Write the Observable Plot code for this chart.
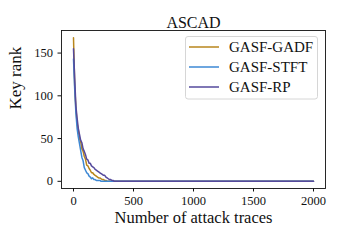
<!DOCTYPE html>
<html><head><meta charset="utf-8">
<script src="https://cdn.jsdelivr.net/npm/d3@7"></script>
<script src="https://cdn.jsdelivr.net/npm/@observablehq/plot@0.6"></script>
<style>body{margin:0;background:#fff} svg{display:block}</style>
</head><body><div id="chart"></div>
<script>
const title = "ASCAD";
const xLabel = "Number of attack traces";
const yLabel = "Key rank";
const xTicks = [0, 500, 1000, 1500, 2000];
const yTicks = [0, 50, 100, 150];
const seriesNames = ["GASF-GADF", "GASF-STFT", "GASF-RP"];
const seriesColors = ["#b8861c", "#3d88d4", "#554a9c"];
const traces = [0,10,20,30,40,50,60,70,80,90,100,110,120,130,140,150,160,170,180,190,200,210,220,230,240,250,260,270,280,290,300,310,320,330,340,350,360,370,380,390,400,2000];
const gadf = [168,112,85,68,60,50,46,38,35,29,26,19,18,15,13,10,10,8,7,6,5,4,4,3,2,2,1,1,0,0,0,0,0,0,0,0,0,0,0,0,0,0];
const stft = [143,108,80,62,52,44,36,28,24,16,13,10,9,6,5,3,4,2,2,1,1,1,1,0,0,0,0,0,0,0,0,0,0,0,0,0,0,0,0,0,0,0];
const rp   = [155,120,88,74,62,55,48,45,38,35,31,26,25,21,21,18,17,16,14,13,12,11,10,9,8,7,7,5,4,3,2,2,1,1,0,0,0,0,0,0,0,0];
const seriesValues = [gadf, stft, rp];

const rows = seriesNames.map((name, i) => traces.map((t, j) => ({t, v: seriesValues[i][j], s: name})));

const font = "'Liberation Serif', 'DejaVu Serif', serif";
const plot = Plot.plot({
  width: 340, height: 240,
  marginLeft: 61, marginRight: 15, marginTop: 30, marginBottom: 52,
  style: {fontFamily: font, fontSize: "12px", color: "#111", background: "#fff"},
  x: {domain: [-100, 2100], label: null},
  y: {domain: [-8.4, 176.4], label: null},
  marks: [
    ...rows.map((r, i) => Plot.line(r, {x: "t", y: "v", stroke: seriesColors[i], strokeWidth: 1.5})),
    Plot.frame({stroke: "#111", strokeWidth: 0.9}),
    Plot.axisX({ticks: xTicks, tickFormat: d3.format("d"), tickSize: 3.5, tickPadding: 4, fontSize: 12.5, label: null}),
    Plot.axisY({ticks: yTicks, tickFormat: d3.format("d"), tickSize: 3.5, tickPadding: 5, fontSize: 12.5, label: null}),
    Plot.text([title], {frameAnchor: "top", dy: -14, fontSize: 16, fill: "#111"}),
    Plot.text([xLabel], {frameAnchor: "bottom", dy: 34, fontSize: 16.5, fill: "#111"}),
    Plot.text([yLabel], {frameAnchor: "left", dx: -46, rotate: -90, fontSize: 17, fill: "#111"})
  ]
});
document.getElementById("chart").appendChild(plot);

// legend
const svg = d3.select(plot);
const lg = svg.append("g");
lg.append("rect").attr("x", 185.5).attr("y", 36.5).attr("width", 132).attr("height", 62.5)
  .attr("rx", 2.5).attr("fill", "#fff").attr("fill-opacity", 0.85).attr("stroke", "#d6d6d6").attr("stroke-width", 1);
seriesNames.forEach((name, i) => {
  const y = 47 + i * 20;
  lg.append("line").attr("x1", 189).attr("x2", 219).attr("y1", y).attr("y2", y)
    .attr("stroke", seriesColors[i]).attr("stroke-width", 1.5);
  lg.append("text").attr("x", 229).attr("y", y).attr("dy", "0.35em")
    .attr("text-anchor", "start")
    .attr("font-family", font).attr("font-size", 15).attr("fill", "#111").text(name);
});
</script>
</body></html>
